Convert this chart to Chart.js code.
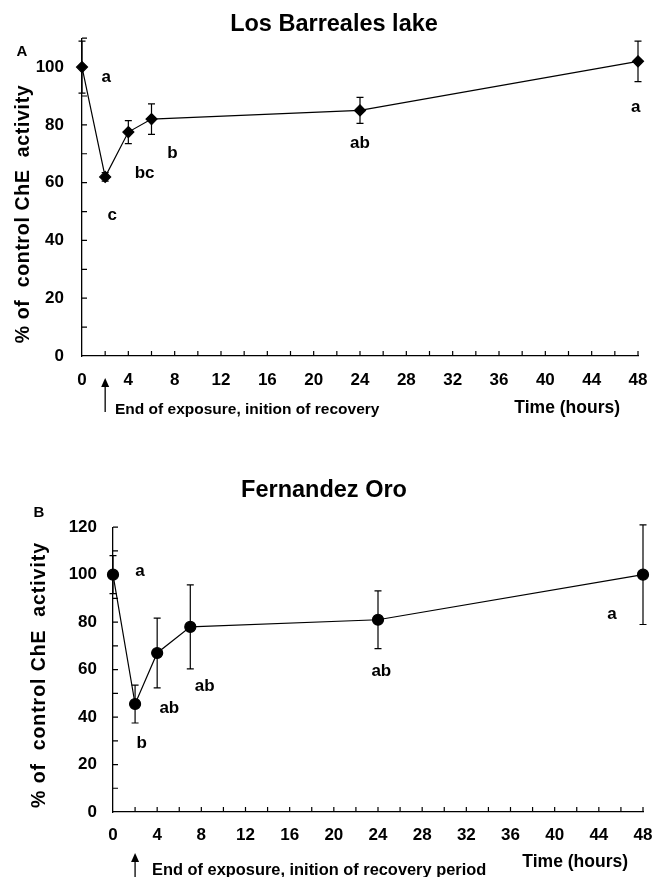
<!DOCTYPE html>
<html>
<head>
<meta charset="utf-8">
<script src="https://cdn.jsdelivr.net/npm/chart.js@4.4.0/dist/chart.umd.min.js"></script>
<style>
body { margin: 0; background: #fff; }
#wrapA { position: absolute; left: 0; top: 0; width: 666px; height: 430px; }
#wrapB { position: absolute; left: 0; top: 430px; width: 666px; height: 447px; }
</style>
</head>
<body>
<div id="wrapA"><canvas id="chartA"></canvas></div>
<div id="wrapB"><canvas id="chartB"></canvas></div>
<script>
// Panel A - Los Barreales lake
const hoursA = [0, 2, 4, 6, 24, 48];
const activityA = [100, 62, 77.5, 82, 85, 102];
const errorA = [9, 1.5, 4, 5.3, 4.5, 7];
const lettersA = ['a', 'c', 'bc', 'b', 'ab', 'a'];
const letterXA = [2.1, 2.6, 5.4, 7.8, 24, 47.8];
const letterYA = [96.5, 48.8, 63.3, 70, 73.7, 86.2];
const yLabelsA = [0, 20, 40, 60, 80, 100];

// Panel B - Fernandez Oro
const hoursB = [0, 2, 4, 7, 24, 48];
const activityB = [100, 45.5, 67, 78, 81, 100];
const errorB = [8, 8, 14.7, 17.7, 12.2, 21];
const lettersB = ['a', 'b', 'ab', 'ab', 'ab', 'a'];
const letterXB = [2.45, 2.6, 5.1, 8.3, 24.3, 45.2];
const letterYB = [101.5, 29, 43.8, 53, 59.4, 83.4];
const yLabelsB = [0, 20, 40, 60, 80, 100, 120];

const xLabels = [0, 4, 8, 12, 16, 20, 24, 28, 32, 36, 40, 44, 48];

const FONT = "'Liberation Sans', Arial, Helvetica, sans-serif";
Chart.defaults.font.family = FONT;
Chart.defaults.font.weight = 'bold';
Chart.defaults.color = '#000';

// inward ticks, error bars, letters and notes
const decor = {
    id: 'decor',
    beforeDatasetsDraw(chart, args, opts) {
        const ctx = chart.ctx;
        const xs = chart.scales.x, ys = chart.scales.y;
        const area = chart.chartArea;
        ctx.save();
        ctx.strokeStyle = '#000';
        ctx.lineWidth = 1.2;
        ctx.beginPath();
        xs.ticks.forEach(t => {
            if (t.value === 0) return;
            const px = xs.getPixelForValue(t.value);
            ctx.moveTo(px, area.bottom);
            ctx.lineTo(px, area.bottom - 5);
        });
        ys.ticks.forEach(t => {
            if (t.value === 0) return;
            const py = ys.getPixelForValue(t.value);
            ctx.moveTo(area.left, py);
            ctx.lineTo(area.left + 5, py);
        });
        ctx.stroke();

        // error bars
        ctx.beginPath();
        opts.err.forEach((e, i) => {
            const px = xs.getPixelForValue(opts.xv[i]);
            const top = ys.getPixelForValue(opts.yv[i] + e);
            const bot = ys.getPixelForValue(opts.yv[i] - e);
            ctx.moveTo(px, top); ctx.lineTo(px, bot);
            ctx.moveTo(px - 3.5, top); ctx.lineTo(px + 3.5, top);
            ctx.moveTo(px - 3.5, bot); ctx.lineTo(px + 3.5, bot);
        });
        ctx.stroke();
        ctx.restore();
    },
    afterDraw(chart, args, opts) {
        const ctx = chart.ctx;
        const xs = chart.scales.x, ys = chart.scales.y;
        ctx.save();
        ctx.fillStyle = '#000';
        ctx.textBaseline = 'middle';
        ctx.textAlign = 'center';
        ctx.font = 'bold 17px ' + FONT;
        opts.letters.forEach((l, i) => {
            ctx.fillText(l, xs.getPixelForValue(opts.lx[i]), ys.getPixelForValue(opts.ly[i]));
        });

        // panel letter
        ctx.font = 'bold 15px ' + FONT;
        ctx.fillText(opts.panel, opts.panelX, opts.panelY);

        // y axis title, stretched to the length seen in the figure
        const yTitle = '% of  control ChE  activity';
        ctx.save();
        ctx.translate(opts.yTitleX, opts.yTitleY);
        ctx.rotate(-Math.PI / 2);
        ctx.font = 'bold 19.5px ' + FONT;
        const w = ctx.measureText(yTitle).width;
        if ('letterSpacing' in ctx) {
            ctx.letterSpacing = ((opts.yTitleLen - w) / (yTitle.length - 1)).toFixed(2) + 'px';
        }
        ctx.fillText(yTitle, 0, 0);
        ctx.restore();

        // x axis title
        ctx.textAlign = 'right';
        ctx.font = 'bold 17.5px ' + FONT;
        ctx.fillText('Time (hours)', opts.timeX, opts.timeY);

        // note below axis
        ctx.textAlign = 'left';
        ctx.font = 'bold ' + opts.noteSize + 'px ' + FONT;
        ctx.fillText(opts.note, opts.noteX, opts.noteY);

        // arrow at end of exposure
        const ax = xs.getPixelForValue(opts.arrowAt);
        ctx.strokeStyle = '#000';
        ctx.lineWidth = 1.3;
        ctx.beginPath();
        ctx.moveTo(ax, opts.arrowTip + 6);
        ctx.lineTo(ax, opts.arrowTail);
        ctx.stroke();
        ctx.beginPath();
        ctx.moveTo(ax, opts.arrowTip);
        ctx.lineTo(ax - 4, opts.arrowTip + 9);
        ctx.lineTo(ax + 4, opts.arrowTip + 9);
        ctx.closePath();
        ctx.fill();
        ctx.restore();
    }
};

function makeChart(id, cfg) {
    return new Chart(document.getElementById(id), {
        type: 'line',
        data: {
            datasets: [{
                data: cfg.xv.map((h, i) => ({ x: h, y: cfg.yv[i] })),
                borderColor: '#000',
                backgroundColor: '#000',
                borderWidth: 1.2,
                pointStyle: cfg.pointStyle,
                pointRadius: cfg.pointRadius,
                pointBackgroundColor: '#000',
                pointBorderColor: '#000',
                tension: 0,
                clip: false
            }]
        },
        options: {
            responsive: true,
            maintainAspectRatio: false,
            animation: false,
            events: [],
            layout: { padding: { left: cfg.padLeft, right: cfg.padRight, top: 0, bottom: 0 } },
            plugins: {
                legend: { display: false },
                tooltip: { enabled: false },
                title: {
                    display: true,
                    text: cfg.title,
                    font: { size: 23.5, weight: 'bold' },
                    color: '#000',
                    padding: cfg.titlePad
                },
                decor: cfg.decor
            },
            scales: {
                x: {
                    type: 'linear',
                    min: 0,
                    max: 48,
                    afterFit: s => { s.height = cfg.xHeight; },
                    grid: { display: false, drawTicks: false },
                    border: { display: true, color: '#000', width: 1.3 },
                    ticks: {
                        stepSize: 2,
                        autoSkip: false,
                        maxRotation: 0,
                        padding: cfg.xPad,
                        font: { size: 17, weight: 'bold' },
                        callback: v => xLabels.includes(v) ? v : ''
                    }
                },
                y: {
                    min: 0,
                    max: cfg.yMax,
                    afterFit: s => { s.width = cfg.yWidth; },
                    grid: { display: false, drawTicks: false },
                    border: { display: true, color: '#000', width: 1.3 },
                    ticks: {
                        stepSize: 10,
                        autoSkip: false,
                        padding: cfg.yPad,
                        font: { size: 17, weight: 'bold' },
                        callback: v => cfg.yLabels.includes(v) ? v : ''
                    }
                }
            }
        },
        plugins: [decor]
    });
}

makeChart('chartA', {
    xv: hoursA, yv: activityA,
    title: 'Los Barreales lake',
    titlePad: { top: 10, bottom: 0 },
    pointStyle: 'rectRot', pointRadius: 5.5,
    yMax: 110, yLabels: yLabelsA,
    padLeft: 30, padRight: 28,
    yWidth: 52, xHeight: 74,
    xPad: 14, yPad: 18,
    decor: {
        xv: hoursA, yv: activityA, err: errorA,
        letters: lettersA, lx: letterXA, ly: letterYA,
        panel: 'A', panelX: 22, panelY: 52,
        yTitleX: 24, yTitleY: 214, yTitleLen: 258,
        timeX: 620, timeY: 408,
        note: 'End of exposure, inition of recovery', noteSize: 15.5, noteX: 115, noteY: 410,
        arrowAt: 2, arrowTip: 378, arrowTail: 412
    }
});

makeChart('chartB', {
    xv: hoursB, yv: activityB,
    title: 'Fernandez Oro',
    titlePad: { top: 46, bottom: 23 },
    pointStyle: 'circle', pointRadius: 5.5,
    yMax: 120, yLabels: yLabelsB,
    padLeft: 5, padRight: 23,
    yWidth: 108, xHeight: 65,
    xPad: 13, yPad: 16,
    decor: {
        xv: hoursB, yv: activityB, err: errorB,
        letters: lettersB, lx: letterXB, ly: letterYB,
        panel: 'B', panelX: 39, panelY: 83,
        yTitleX: 40, yTitleY: 245, yTitleLen: 265,
        timeX: 628, timeY: 432,
        note: 'End of exposure, inition of recovery period', noteSize: 16.4, noteX: 152, noteY: 440,
        arrowAt: 2, arrowTip: 423, arrowTail: 447
    }
});
</script>
</body>
</html>
